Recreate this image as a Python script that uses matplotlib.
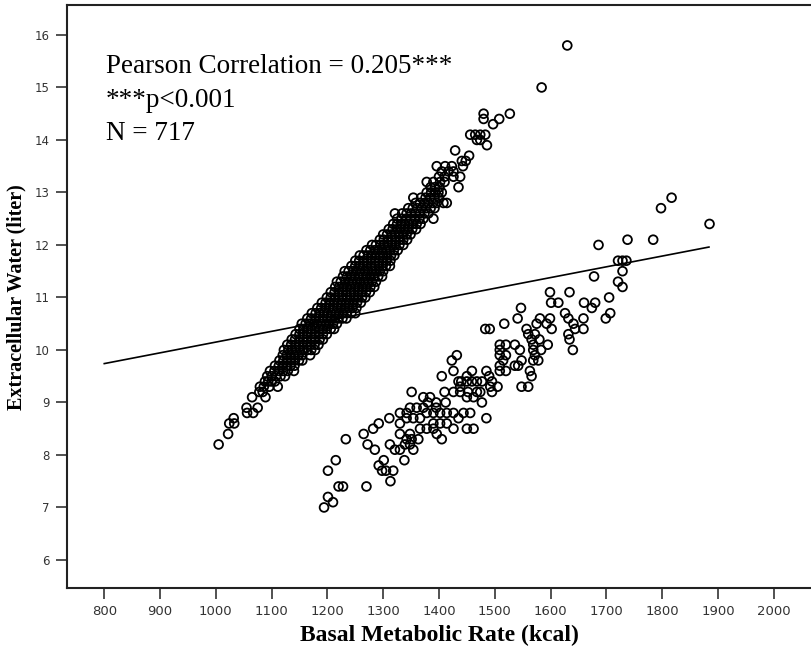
import matplotlib
matplotlib.use("Agg")
import matplotlib.pyplot as plt

# ---- data: {EW (liter): [BMR (kcal), ...]} ----
upper_rows = {
    8.2: [1005], 8.4: [1022], 8.6: [1024, 1033], 8.7: [1032],
    8.8: [1056, 1067], 8.9: [1055, 1075], 9.1: [1065, 1089], 9.2: [1078, 1084],
    9.3: [1079, 1086, 1096, 1111], 9.4: [1088, 1094, 1100, 1106],
    9.5: [1092, 1100, 1108, 1116, 1124],
    9.6: [1097, 1105, 1113, 1121, 1129, 1140],
    9.7: [1106, 1113, 1120, 1127, 1134, 1141],
    9.8: [1114, 1121, 1128, 1135, 1142, 1149, 1155],
    9.9: [1120, 1127, 1134, 1141, 1148, 1155, 1169],
    10.0: [1122, 1130, 1136, 1143, 1151, 1157, 1164, 1171, 1178],
    10.1: [1128, 1135, 1143, 1149, 1156, 1164, 1170, 1177, 1184],
    10.2: [1136, 1142, 1150, 1157, 1163, 1171, 1178, 1186, 1192],
    10.3: [1143, 1150, 1156, 1164, 1171, 1177, 1185, 1192, 1199],
    10.4: [1150, 1157, 1165, 1171, 1178, 1186, 1192, 1199, 1206, 1212],
    10.5: [1154, 1161, 1168, 1176, 1182, 1189, 1197, 1203, 1210, 1217],
    10.6: [1164, 1171, 1179, 1185, 1192, 1200, 1206, 1213, 1220, 1227, 1234],
    10.7: [1172, 1179, 1186, 1194, 1200, 1207, 1215, 1221, 1228, 1235, 1243, 1250],
    10.8: [1182, 1189, 1197, 1203, 1210, 1218, 1224, 1231, 1238, 1245, 1252],
    10.9: [1190, 1197, 1204, 1212, 1218, 1225, 1233, 1239, 1246, 1253, 1260],
    11.0: [1199, 1206, 1214, 1220, 1227, 1235, 1241, 1248, 1255, 1262, 1268],
    11.1: [1206, 1213, 1221, 1227, 1234, 1242, 1248, 1255, 1262, 1269, 1276],
    11.2: [1214, 1221, 1229, 1235, 1242, 1250, 1256, 1263, 1270, 1277, 1284],
    11.3: [1217, 1224, 1232, 1238, 1245, 1253, 1259, 1266, 1273, 1280, 1287],
    11.4: [1228, 1235, 1243, 1249, 1256, 1264, 1270, 1277, 1284, 1291, 1298],
    11.5: [1231, 1238, 1246, 1252, 1259, 1267, 1273, 1280, 1287, 1294, 1300],
    11.6: [1243, 1250, 1258, 1264, 1271, 1279, 1285, 1292, 1299, 1305, 1312],
    11.7: [1250, 1257, 1265, 1271, 1278, 1286, 1292, 1299, 1306, 1313],
    11.8: [1258, 1265, 1273, 1279, 1286, 1294, 1300, 1307, 1314, 1320],
    11.9: [1270, 1277, 1285, 1291, 1298, 1306, 1312, 1319, 1326],
    12.0: [1280, 1287, 1295, 1301, 1308, 1316, 1322, 1329, 1336],
    12.1: [1294, 1301, 1309, 1315, 1322, 1330, 1336, 1343],
    12.2: [1300, 1307, 1315, 1321, 1328, 1336, 1342, 1349],
    12.3: [1310, 1317, 1325, 1331, 1338, 1345, 1352, 1359],
    12.4: [1318, 1325, 1333, 1339, 1346, 1353, 1360, 1367],
    12.5: [1325, 1333, 1341, 1349, 1357, 1365, 1372, 1390],
    12.6: [1321, 1334, 1342, 1350, 1358, 1366, 1374, 1381],
    12.7: [1345, 1353, 1361, 1369, 1377, 1385, 1392],
    12.8: [1358, 1366, 1374, 1381, 1389, 1396, 1408, 1414],
    12.9: [1354, 1368, 1376, 1384, 1392, 1400],
    13.0: [1378, 1386, 1394, 1399, 1405],
    13.1: [1385, 1393, 1401, 1435],
    13.2: [1378, 1390, 1402, 1410],
    13.3: [1400, 1410, 1426, 1438],
    13.4: [1405, 1417, 1426],
    13.5: [1396, 1411, 1423, 1443],
    13.6: [1441, 1448], 13.7: [1454], 13.8: [1429], 13.9: [1486],
    14.0: [1468, 1474], 14.1: [1456, 1465, 1474, 1483], 14.3: [1497],
    14.4: [1480, 1508], 14.5: [1480, 1527], 15.0: [1584], 15.8: [1630],
}

lower_rows = {
    7.0: [1194], 7.1: [1210], 7.2: [1201], 7.4: [1220, 1228, 1270], 7.5: [1313],
    7.7: [1201, 1298, 1305, 1318], 7.8: [1292], 7.9: [1215, 1301, 1338],
    8.1: [1285, 1321, 1330, 1354], 8.2: [1272, 1312, 1339, 1348],
    8.3: [1233, 1342, 1351, 1363, 1405], 8.4: [1265, 1330, 1348, 1396],
    8.5: [1282, 1366, 1378, 1390, 1426, 1450, 1462],
    8.6: [1292, 1330, 1390, 1402, 1414],
    8.7: [1311, 1342, 1354, 1366, 1435, 1485],
    8.8: [1330, 1342, 1378, 1390, 1402, 1414, 1426, 1444, 1456],
    8.9: [1348, 1360, 1372, 1395], 9.0: [1380, 1395, 1412, 1477],
    9.1: [1372, 1384, 1450, 1462],
    9.2: [1351, 1410, 1426, 1438, 1452, 1468, 1474, 1495],
    9.3: [1438, 1492, 1505, 1548, 1560],
    9.4: [1435, 1440, 1450, 1459, 1468, 1477, 1495],
    9.5: [1405, 1450, 1490, 1566],
    9.6: [1426, 1459, 1485, 1509, 1520, 1563],
    9.7: [1509, 1536, 1542], 9.8: [1423, 1515, 1548, 1569, 1578],
    9.9: [1432, 1509, 1520, 1572], 10.0: [1509, 1545, 1569, 1583, 1640],
    10.1: [1509, 1520, 1536, 1569, 1595], 10.2: [1566, 1580, 1634],
    10.3: [1560, 1572, 1632], 10.4: [1483, 1491, 1557, 1602, 1644, 1659],
    10.5: [1517, 1575, 1593, 1641], 10.6: [1541, 1581, 1599, 1632, 1659, 1699],
    10.7: [1626, 1707], 10.8: [1547, 1674], 10.9: [1601, 1614, 1660, 1680],
    11.0: [1705], 11.1: [1599, 1634], 11.2: [1729], 11.3: [1721], 11.4: [1678],
    11.5: [1729], 11.7: [1721, 1729, 1736], 12.0: [1686], 12.1: [1738, 1784],
    12.4: [1885], 12.7: [1798], 12.9: [1817],
}

fit_x = [800, 1884]
fit_y = [9.74, 11.96]

x_ticks = list(range(800, 2001, 100))
y_ticks = list(range(6, 17))
annot_lines = ["Pearson Correlation = 0.205***", "***p<0.001", "N = 717"]
annot_y = [15.28, 14.63, 13.99]

# ---- build arrays ----
xs, ys = [], []
for rows in (upper_rows, lower_rows):
    for yv, xl in rows.items():
        for xv in xl:
            xs.append(xv)
            ys.append(yv)

fig = plt.figure(figsize=(8.12, 6.52), dpi=100)
ax = fig.add_axes([0.0821, 0.0977, 0.9179, 0.8946])

ax.scatter(xs, ys, s=40, facecolors="none", edgecolors="black",
           linewidths=1.3, zorder=3)
ax.plot(fit_x, fit_y, color="black", lw=1.2, zorder=2)

ax.set_xlim(732.6, 2068.7)
ax.set_ylim(5.46, 16.57)
ax.set_xticks(x_ticks)
ax.set_yticks(y_ticks)

ax.spines["right"].set_visible(False)
for s in ("left", "bottom", "top"):
    ax.spines[s].set_linewidth(1.5)
    ax.spines[s].set_color("#222222")

ax.tick_params(axis="both", direction="out", length=8, width=1.2,
               color="#333333", labelcolor="#333333", pad=4)
for lab in ax.get_xticklabels():
    lab.set_fontfamily("DejaVu Sans")
    lab.set_fontsize(9.5)
for lab in ax.get_yticklabels():
    lab.set_fontfamily("DejaVu Sans")
    lab.set_fontsize(8.5)

ax.set_xlabel("Basal Metabolic Rate (kcal)", fontfamily="Liberation Serif",
              fontweight="bold", fontsize=17, labelpad=5)
ax.set_ylabel("Extracellular Water (liter)", fontfamily="Liberation Serif",
              fontweight="bold", fontsize=14.5, labelpad=6)

for txt, yv in zip(annot_lines, annot_y):
    ax.text(803, yv, txt, fontfamily="Liberation Serif", fontsize=19.5,
            va="baseline", ha="left", color="black")

fig.savefig("out.png", dpi=100)
